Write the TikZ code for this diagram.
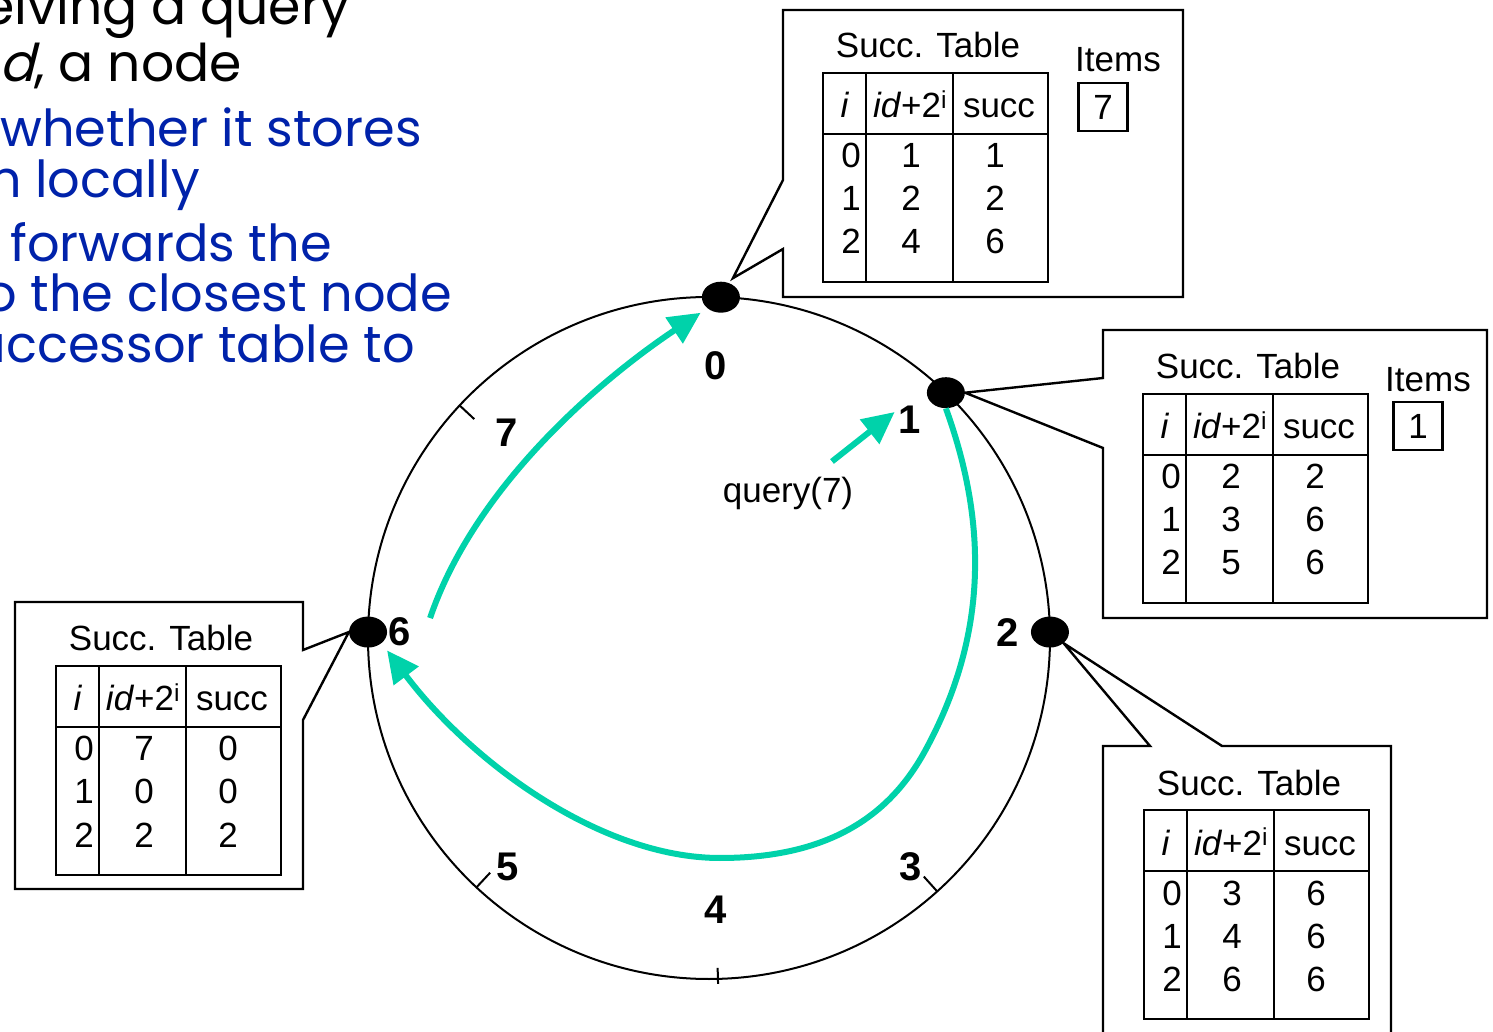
\documentclass[tikz,border=0pt]{standalone}
\usepackage{fontspec}
\setmainfont{Liberation Sans}
\newfontfamily\comicfont[ItalicFont=Poppins, ItalicFeatures={FakeSlant=0.25}]{Poppins}
\usetikzlibrary{positioning, calc, arrows.meta, shapes.geometric}
\definecolor{Ink}{HTML}{0022AA}
\definecolor{Teal}{HTML}{00D2AA}
\tikzset{
    dot/.style={ellipse, fill=black, minimum width=38pt, minimum height=31pt, inner sep=0pt},
    ring/.style={draw=black, line width=2pt},
    tickmark/.style={line width=2pt},
    callout/.style={draw=black, line width=2.4pt, line join=miter},
    tabline/.style={line width=2.4pt},
    cell/.style={anchor=base, inner sep=0pt, font=\fontsize{35}{42}\selectfont},
    numlabel/.style={inner sep=0pt, font=\fontsize{40}{48}\selectfont\bfseries},
    itembox/.style={draw, line width=2.4pt, minimum width=49pt, minimum height=48pt, inner sep=0pt, font=\fontsize{35}{42}\selectfont},
    flow/.style={draw=Teal, line width=6pt, -{Triangle[length=32pt, width=30pt]}},
    slide/.style={anchor=base east, inner sep=0pt, text=Ink, font=\comicfont\fontsize{51}{55}\selectfont},
    slidehead/.style={slide, text=black, font=\comicfont\fontsize{52}{57}\selectfont},
}
% successor table: name, top left corner, rows i/id/succ
\newcommand{\succtab}[4]{%
  \begin{scope}[shift={(#2,#3)}]
    \draw[tabline] (0,0) rectangle (225,-209);
    \draw[tabline] (43,0) -- (43,-209) (130,0) -- (130,-209) (0,-61) -- (225,-61);
    \node[cell] (#1-title) at (105,15) {Succ. Table};
    \node[cell] (#1-hi) at (22,-45) {\textit{i}};
    \node[cell] (#1-hid) at (87,-45) {\textit{id}+2\textsuperscript{i}};
    \node[cell] (#1-hsucc) at (176,-45) {succ};
    \foreach \r/\a/\s [count=\k] in {#4} {
      \node[cell] (#1-i\k) at (28,-52-43*\k) {\r};
      \node[cell] (#1-a\k) at (88,-52-43*\k) {\a};
      \node[cell] (#1-s\k) at (172,-52-43*\k) {\s};
    }
  \end{scope}}

\begin{document}
\begin{tikzpicture}[x=1pt, y=1pt]
    \useasboundingbox (0,0) rectangle (1493,1031);
    \clip (0,0) rectangle (1493,1031);

    % slide text, cut at the left edge
    \node[slidehead] (txt1) at (350,1006) {eiving a query};
    \node[slidehead] (txt2) at (242,949) {\textit{d}, a node};
    \node[slide] (txt3) at (422,884) {whether it stores};
    \node[slide] (txt4) at (200,833) {m locally};
    \node[slide] (txt5) at (332,769) {forwards the};
    \node[slide] (txt6) at (452,719) {o the closest node};
    \node[slide] (txt7) at (415,668) {uccessor table to};

    % identifier ring
    \coordinate (C) at (709,393);
    \draw[ring] (C) circle (341pt);
    \foreach \a in {137,227,312}
        \draw[tickmark] ($(C)+(\a:341)$) -- ($(C)+(\a:321)$);
    \draw[tickmark] ($(C)+(271.5:330)$) -- ($(C)+(271.5:346)$);

    % nodes on the ring
    \node[dot] (n0) at ($(C)+(88:341)$) {};
    \node[dot] (n1) at ($(C)+(46:341)$) {};
    \node[dot] (n2) at ($(C)+(1:341)$) {};
    \node[dot] (n6) at ($(C)+(179:341)$) {};

    \node[numlabel] (l0) at (716,665) {0};
    \node[numlabel] (l1) at (910,611) {1};
    \node[numlabel] (l2) at (1008,398) {2};
    \node[numlabel] (l3) at (911,164) {3};
    \node[numlabel] (l4) at (716,121) {4};
    \node[numlabel] (l5) at (508,164) {5};
    \node[numlabel] (l6) at (400,399) {6};
    \node[numlabel] (l7) at (507,598) {7};

    % callouts
    \draw[callout] (783,1021) -- (1183,1021) -- (1183,734) -- (783,734) -- (783,782)
        -- ($(n0)+(12,19)$) -- (783,851) -- cycle;
    \draw[callout] (1103,701) -- (1487,701) -- (1487,413) -- (1103,413) -- (1103,583)
        -- (n1.east) -- (1103,653) -- cycle;
    \draw[callout] (1103,285) -- (1150,285) -- (n2.south east) -- (1222,285)
        -- (1391,285) -- (1391,-30) -- (1103,-30) -- cycle;
    \draw[callout] (15,429) -- (303,429) -- (303,381) -- (n6.west) -- (303,311)
        -- (303,142) -- (15,142) -- cycle;

    \succtab{t0}{823}{958}{0/1/1, 1/2/2, 2/4/6}
    \succtab{t1}{1143}{637}{0/2/2, 1/3/6, 2/5/6}
    \succtab{t2}{1144}{221}{0/3/6, 1/4/6, 2/6/6}
    \succtab{t6}{56}{365}{0/7/0, 1/0/0, 2/2/2}

    \node[cell] (items0) at (1118,959) {Items};
    \node[itembox] (item0) at (1103,924) {7};
    \node[cell] (items1) at (1428,639) {Items};
    \node[itembox] (item1) at (1418,605) {1};

    % lookup path
    \node[inner sep=0pt, font=\fontsize{35}{42}\selectfont] (query) at (788,538) {query(7)};
    \draw[flow] ($(query.north)+(44,15)$) -- ($(l1.west)+(-4,8)$);
    \draw[flow, shorten >=9pt] (n1.south) .. controls (990,501) and (985,390) .. (925,280)
        .. controls (890,216) and (830,173) .. (720,173)
        .. controls (600,173) and (470,270) .. (n6.south east);
    \draw[flow, shorten >=8pt] ($(n6)+(62,14)$) .. controls (475,545) and (600,651) .. (n0.south west);
\end{tikzpicture}
\end{document}
